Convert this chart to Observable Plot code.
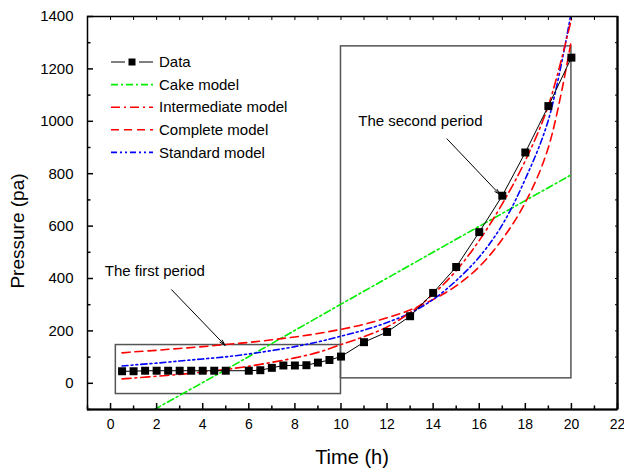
<!DOCTYPE html>
<html><head><meta charset="utf-8">
<script src="https://cdn.jsdelivr.net/npm/d3@7"></script>
<script src="https://cdn.jsdelivr.net/npm/@observablehq/plot@0.6"></script>
<style>
body{margin:0;background:#fff}
#wrap{position:relative;width:624px;height:469px;font-family:Arial,"Liberation Sans",sans-serif;color:#000}
.lab{position:absolute;white-space:nowrap;line-height:1}
</style>
</head><body><div id="wrap"></div>
<script>
// ---- data ----
const dataT = [0.5,1,1.5,2,2.5,3,3.5,4,4.5,5,6,6.5,7,7.5,8,8.5,9,9.5,10,11,12,13,14,15,16,17,18,19,20];
const dataP = [46,46,48,48,48,48,48,48,48,48,48,50,59,68,68,69,79,89,102,157,196,256,345,444,577,716,881,1058,1243];

const modelT = [0.5,1,2,3,4,5,6,7,8,9,10,11,12,13,14,15,16,17,18,19,20];
const intermediateP = [17,20,27,34,43,53,65,80,97,118,148,178,215,270,340,430,545,685,850,1060,1390];
const completeP = [116,120,126,133,140,148,156,166,177,190,206,225,250,280,320,372,445,550,690,900,1310];
const standardP = [66,70,77,85,93,101,112,125,140,158,180,203,232,268,320,392,482,605,780,1005,1420];

const cakeT = [1.9,5,10,15,20];
const cakeP = [-100,52,302,550,796];

const seriesNames = ["Data","Cake model","Intermediate model","Complete model","Standard model"];
const seriesColors = ["#000000","#00ee00","#ff0000","#ff0000","#0000ff"];
const seriesDash = [null,"7,3,2,3","9,4,2,4","8,5","6,3,2,3,2,3"];

// period boxes
const boxT1 = [0.23,10], boxT2 = [10,20], boxP1 = [-41,19], boxP2 = [146,1286];

// annotations
const noteText = ["The first period","The second period"];
const noteT = [-0.25,10.75];
const noteP = [427,1000];
const arrowT1 = [2.65,14.6], arrowP1 = [357,933], arrowT2 = [4.97,16.9], arrowP2 = [145,720];

// ticks
const xMajor = [0,2,4,6,8,10,12,14,16,18,20,22];
const xMinor = [-1,1,3,5,7,9,11,13,15,17,19,21];
const xTop = d3.range(-1,23,1);
const yMajor = [0,200,400,600,800,1000,1200,1400];
const yMinor = [-100,100,300,500,700,900,1100,1300];
const yRight = d3.range(-100,1500,100);

// ---- tables ----
const data = dataT.map((t,i)=>({t,p:dataP[i]}));
const models = [];
modelT.forEach((t,i)=>{
  models.push({t,p:intermediateP[i],m:"Intermediate model"});
  models.push({t,p:completeP[i],m:"Complete model"});
  models.push({t,p:standardP[i],m:"Standard model"});
});
const cake = cakeT.map((t,i)=>({t,p:cakeP[i]}));
const boxes = boxT1.map((_,i)=>({x1:boxT1[i],x2:boxT2[i],y1:boxP1[i],y2:boxP2[i]}));
const notes = noteText.map((s,i)=>({s,t:noteT[i],p:noteP[i]}));
const arrows = arrowT1.map((_,i)=>({x1:arrowT1[i],y1:arrowP1[i],x2:arrowT2[i],y2:arrowP2[i]}));

const col = n => seriesColors[seriesNames.indexOf(n)];
const dash = n => seriesDash[seriesNames.indexOf(n)];
const FONT = "Arial, 'Liberation Sans', sans-serif";

const modelLine = name => Plot.line(models.filter(d=>d.m===name), {
  x:"t", y:"p", stroke: col(name), strokeWidth:1.6, strokeDasharray: dash(name), curve:"catmull-rom", clip:true
});

const plot = Plot.plot({
  width:624, height:469,
  marginLeft:87, marginRight:7, marginTop:16, marginBottom:60,
  style:{fontFamily:FONT, fontSize:"14px", background:"white", color:"black"},
  x:{domain:[-1,22]},
  y:{domain:[-100,1400]},
  marks:[
    Plot.rect(boxes,{x1:"x1",x2:"x2",y1:"y1",y2:"y2",fill:"none",stroke:"#555",strokeWidth:1.5}),
    Plot.line(cake,{x:"t",y:"p",stroke:col("Cake model"),strokeWidth:1.6,strokeDasharray:dash("Cake model"),clip:true}),
    modelLine("Complete model"),
    modelLine("Standard model"),
    modelLine("Intermediate model"),
    Plot.line(data,{x:"t",y:"p",stroke:"black",strokeWidth:1}),
    Plot.dot(data,{x:"t",y:"p",symbol:"square",r:4.5,fill:"black",stroke:"none"}),
    Plot.arrow(arrows,{x1:"x1",y1:"y1",x2:"x2",y2:"y2",stroke:"black",strokeWidth:1,headLength:9,headAngle:30}),
    Plot.text(notes,{x:"t",y:"p",text:"s",textAnchor:"start",fontSize:15,fill:"black"}),
    // axes
    Plot.axisX({anchor:"bottom",ticks:xMajor,tickSize:-6,tickFormat:()=>"",label:null,strokeWidth:1.5}),
    Plot.axisX({anchor:"bottom",ticks:xMinor,tickSize:-3.5,tickFormat:()=>"",label:null,strokeWidth:1.5}),
    Plot.axisX({anchor:"bottom",ticks:xMajor,tickSize:0,tickPadding:10,label:null,fontSize:14,tickFormat:d3.format("d")}),
    Plot.axisX({anchor:"top",ticks:xTop,tickSize:-3,tickFormat:()=>"",label:null}),
    Plot.axisY({anchor:"left",ticks:yMajor,tickSize:-6,tickFormat:()=>"",label:null,strokeWidth:1.5}),
    Plot.axisY({anchor:"left",ticks:yMinor,tickSize:-3.5,tickFormat:()=>"",label:null,strokeWidth:1.5}),
    Plot.axisY({anchor:"left",ticks:yMajor,tickSize:0,tickPadding:14,label:null,fontSize:15,tickFormat:d3.format("d")}),
    Plot.axisY({anchor:"right",ticks:yRight,tickSize:-3,tickFormat:()=>"",label:null}),
    Plot.frame({stroke:"black",strokeWidth:1.5}),
    Plot.ruleY([-100],{stroke:"black",strokeWidth:2.2}),
    Plot.ruleX([22],{stroke:"black",strokeWidth:2.2})
  ]
});
const wrap = document.getElementById("wrap");
wrap.appendChild(plot);

// axis titles
const yl = document.createElement("div");
yl.className="lab"; yl.textContent="Pressure (pa)";
yl.style.fontSize="19px";
yl.style.left="17px"; yl.style.top="231px";
yl.style.transform="translate(-50%,-50%) rotate(-90deg)";
wrap.appendChild(yl);
const xl = document.createElement("div");
xl.className="lab"; xl.textContent="Time (h)";
xl.style.fontSize="20px";
xl.style.left="352px"; xl.style.top="457px";
xl.style.transform="translate(-50%,-50%)";
wrap.appendChild(xl);

// legend
const lg = d3.select(wrap).append("svg")
  .attr("width",200).attr("height",120)
  .style("position","absolute").style("left","105px").style("top","50px");
seriesNames.forEach((n,i)=>{
  const y = 12 + i*22.6;
  const g = lg.append("g").attr("transform",`translate(0,${y})`);
  if(n==="Data"){
    g.append("line").attr("x1",6).attr("x2",20).attr("y1",0).attr("y2",0).attr("stroke","black");
    g.append("line").attr("x1",34).attr("x2",48).attr("y1",0).attr("y2",0).attr("stroke","black");
    g.append("rect").attr("x",23.5).attr("y",-3.5).attr("width",7).attr("height",7).attr("fill","black");
  } else {
    g.append("line").attr("x1",6).attr("x2",48).attr("y1",0).attr("y2",0)
      .attr("stroke",seriesColors[i]).attr("stroke-width",1.6).attr("stroke-dasharray",seriesDash[i]);
  }
  g.append("text").attr("x",54).attr("y",0).attr("dy","0.35em")
    .attr("font-size",15).attr("font-family",FONT).text(n);
});
</script>
</body></html>
